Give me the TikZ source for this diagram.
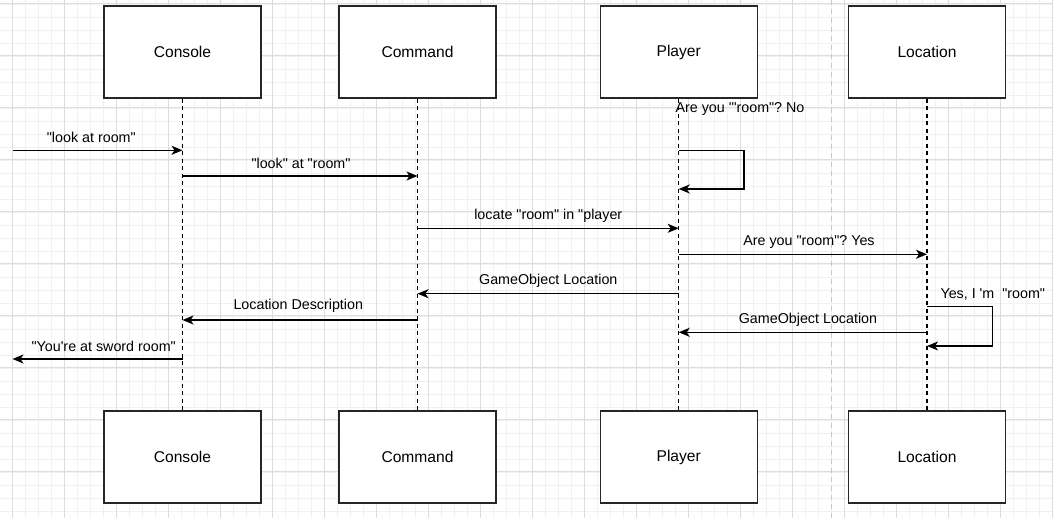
\documentclass[tikz,border=0pt]{standalone}
\usepackage{fontspec}
\newfontfamily\labfont{Liberation Sans}
\usetikzlibrary{arrows.meta}
\frenchspacing
\definecolor{gridmajor}{HTML}{DDDDDD}
\definecolor{gridminor}{HTML}{F1F1F1}
\definecolor{pagebreak}{HTML}{C8C8C8}
\tikzset{
  actor/.style={draw=black!85, line width=1.3pt, fill=white, minimum width=157pt, minimum height=92pt, inner sep=0pt, font=\labfont\fontsize{15.6}{18}\selectfont},
  lifeline/.style={draw=black, line width=1.2pt, dash pattern=on 4pt off 3.5pt},
  msg/.style={draw=black, line width=1.4pt, -{Stealth[length=11pt,width=9pt,inset=3pt]}},
  lbl/.style={inner sep=0pt, font=\labfont\fontsize{14.3}{16}\selectfont\frenchspacing}
}
\begin{document}
\begin{tikzpicture}[x=1pt,y=-1pt]
\useasboundingbox (0,0) rectangle (1053,518);
\fill[white] (0,0) rectangle (1053,518);
% grid
\foreach \i in {-1,...,81} {
  \pgfmathsetmacro{\xx}{-1+13*\i}
  \draw[gridminor, line width=0.9pt] (\xx,0) -- (\xx,518);
}
\foreach \i in {-1,...,40} {
  \pgfmathsetmacro{\yy}{4+13*\i}
  \draw[gridminor, line width=0.9pt] (0,\yy) -- (1053,\yy);
}
\foreach \i in {0,...,20} {
  \pgfmathsetmacro{\xx}{12+52*\i}
  \draw[gridmajor, line width=1pt] (\xx,0) -- (\xx,518);
}
\foreach \i in {0,...,9} {
  \pgfmathsetmacro{\yy}{4+52*\i}
  \draw[gridmajor, line width=1pt] (0,\yy) -- (1053,\yy);
}
% page break line
\draw[pagebreak, line width=1pt, dash pattern=on 5pt off 4pt] (831.5,0) -- (831.5,518);

% actors top
\node[actor] (conT) at (182.5,52) {Console};
\node[actor] (cmdT) at (417.5,52) {Command};
\node[actor] (plT)  at (678.7,52) {Player};
\node[actor] (locT) at (927,52)   {Location};
% actors bottom
\node[actor] (conB) at (182.5,457) {Console};
\node[actor] (cmdB) at (417.5,457) {Command};
\node[actor] (plB)  at (678.7,457) {Player};
\node[actor] (locB) at (927,457)   {Location};
% lifelines
\draw[lifeline] (conT.south) -- (conB.north);
\draw[lifeline] (cmdT.south) -- (cmdB.north);
\draw[lifeline] (plT.south) -- (plB.north);
\draw[lifeline] (locT.south) -- (locB.north);

% messages
\coordinate (in1) at (12.5,150.3);
\draw[msg] (in1) -- (in1 -| conT);
\node[lbl] (l1) at (91.3,137) {"look at room"};

\coordinate (m2) at (0,176);
\draw[msg] (m2 -| conT) -- (m2 -| cmdT);
\node[lbl] (l2) at (301,163) {"look" at "room"};

\coordinate (s1) at (0,150.3);
\coordinate (s1e) at (0,189);
\draw[msg] (s1 -| plT) -- ++(65.3,0) |- (s1e -| plT);
\node[lbl] (l3) at (740,108.5) {Are you \textquotesingle"room"? No};

\coordinate (m4) at (0,228.3);
\draw[msg] (m4 -| cmdT) -- (m4 -| plT);
\node[lbl] (l4) at (548.3,216) {locate "room" in "player};

\coordinate (m5) at (0,254.3);
\draw[msg] (m5 -| plT) -- (m5 -| locT);
\node[lbl] (l5) at (809,242) {Are you "room"? Yes};

\coordinate (m6) at (0,293.7);
\draw[msg] (m6 -| plT) -- (m6 -| cmdT);
\node[lbl] (l6) at (548.3,281.3) {GameObject Location};

\coordinate (m7) at (0,320);
\draw[msg] (m7 -| cmdT) -- (m7 -| conT);
\node[lbl] (l7) at (298.3,306.3) {Location Description};

\coordinate (s2) at (0,306.7);
\coordinate (s2e) at (0,346);
\draw[msg] (s2 -| locT) -- ++(65.3,0) |- (s2e -| locT);
\node[lbl] (l8) at (992.8,294.3) {Yes, I \textquotesingle m\ \ "room"};

\coordinate (m9) at (0,332.3);
\draw[msg] (m9 -| locT) -- (m9 -| plT);
\node[lbl] (l9) at (808,320.3) {GameObject Location};

\coordinate (out10) at (12.5,359);
\draw[msg] (out10 -| conT) -- (out10);
\node[lbl] (l10) at (103.7,346.3) {"You\textquotesingle re at sword room"};
\end{tikzpicture}
\end{document}
